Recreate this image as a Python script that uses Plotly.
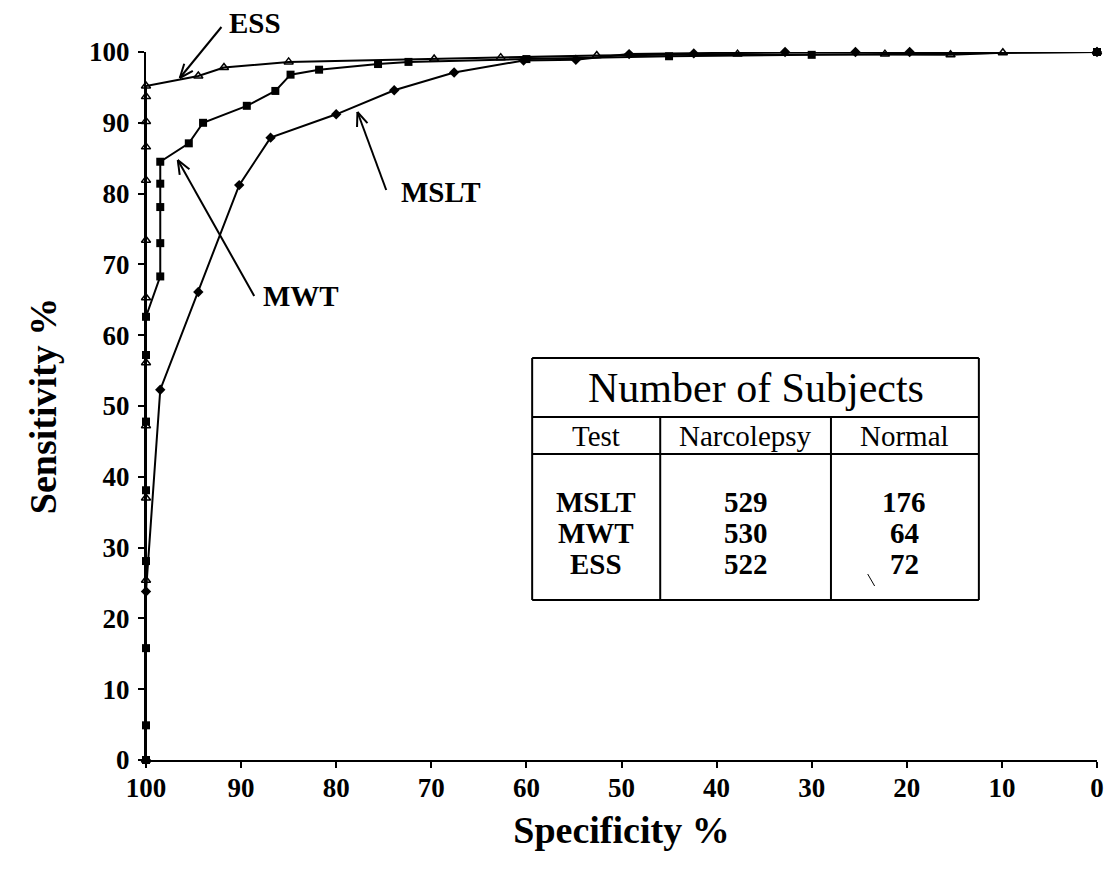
import math
import plotly.graph_objects as go

# ---------------- data ----------------
mslt_spec = [100, 100, 98.5, 94.5, 90.2, 86.9, 80.0, 73.9, 67.6, 60.3, 54.8, 49.2, 42.4, 32.8, 25.4, 19.7, 0]
mslt_sens = [0, 23.8, 52.3, 66.1, 81.2, 87.9, 91.2, 94.6, 97.1, 98.8, 98.9, 99.7, 99.8, 100, 100, 100, 100]

mwt_spec = [100, 100, 100, 100, 100, 100, 100, 100, 98.5, 98.5, 98.5, 98.5, 98.5,
            95.5, 94.0, 89.4, 86.4, 84.8, 81.8, 75.6, 72.4, 60.0, 45.0, 30.0, 0]
mwt_sens = [0, 4.9, 15.8, 28.1, 38.1, 47.8, 57.2, 62.6, 68.3, 73.0, 78.1, 81.4, 84.5,
            87.1, 90.0, 92.4, 94.5, 96.8, 97.5, 98.3, 98.6, 99.0, 99.4, 99.6, 100]

ess_spec = [100, 100, 100, 100, 100, 100, 100, 100, 100, 100, 100, 100,
            94.5, 91.8, 85.0, 69.7, 62.7, 52.6, 37.8, 22.3, 15.4, 9.9, 0]
ess_sens = [0, 25.4, 37.0, 47.2, 56.1, 65.3, 73.4, 81.9, 86.6, 90.2, 93.7, 95.2,
            96.6, 97.8, 98.6, 99.0, 99.2, 99.5, 99.7, 99.7, 99.6, 99.9, 100]

x_ticks = [100, 90, 80, 70, 60, 50, 40, 30, 20, 10, 0]
y_ticks = [0, 10, 20, 30, 40, 50, 60, 70, 80, 90, 100]

table_title = "Number of Subjects"
table_header = ["Test", "Narcolepsy", "Normal"]
table_tests = ["MSLT", "MWT", "ESS"]
table_narcolepsy = [529, 530, 522]
table_normal = [176, 64, 72]

# ---------------- layout constants ----------------
W, H = 1113, 882
ML, MR, MT, MB = 146, 9, 52, 122
PW, PH = W - ML - MR, H - MT - MB
FONT = "Liberation Serif"


def px2paper(px, py):
    return (px - ML) / PW, (H - MB - py) / PH


fig = go.Figure()

line_style = dict(color="black", width=2)
fig.add_trace(go.Scatter(x=mslt_spec, y=mslt_sens, mode="lines+markers", name="MSLT",
                         line=line_style,
                         marker=dict(symbol="diamond", size=8, color="black"),
                         cliponaxis=False))
fig.add_trace(go.Scatter(x=mwt_spec, y=mwt_sens, mode="lines+markers", name="MWT",
                         line=line_style,
                         marker=dict(symbol="square", size=8, color="black"),
                         cliponaxis=False))
fig.add_trace(go.Scatter(x=ess_spec, y=ess_sens, mode="lines+markers", name="ESS",
                         line=line_style,
                         marker=dict(symbol="triangle-up-open", size=8, color="black",
                                     line=dict(color="black", width=1.5)),
                         cliponaxis=False))

shapes = []
annotations = []


def seg(a, b, c, d, w=2):
    x0, y0 = px2paper(a, b)
    x1, y1 = px2paper(c, d)
    shapes.append(dict(type="line", xref="paper", yref="paper", x0=x0, y0=y0, x1=x1, y1=y1,
                       line=dict(color="black", width=w)))


def arrow(tail_px, tip_px, head_len=15, head_ang=22):
    tx, ty = tail_px
    hx, hy = tip_px
    seg(tx, ty, hx, hy)
    ang = math.atan2(ty - hy, tx - hx)
    for s in (-1, 1):
        a = ang + s * math.radians(head_ang)
        seg(hx, hy, hx + head_len * math.cos(a), hy + head_len * math.sin(a))


def label(text, px, py, size, bold=True):
    x, y = px2paper(px, py)
    annotations.append(dict(x=x, y=y, xref="paper", yref="paper", showarrow=False,
                            text=f"<b>{text}</b>" if bold else text,
                            font=dict(family=FONT, size=size, color="black"),
                            xanchor="center", yanchor="middle"))


# curve labels with arrows
arrow((222, 27), (180, 78))
label("ESS", 256, 23, 29)
arrow((255, 296), (178, 160))
label("MWT", 302, 296, 29)
arrow((388, 190), (359, 112))
label("MSLT", 443, 192, 29)

# table
TL, TR, TT, TB = 535, 985, 358, 600
ROW1, ROW2 = 417, 454
COL1, COL2 = 664, 836
for a, b, c, d in [
    (TL, TT, TR, TT), (TL, TB, TR, TB), (TL, TT, TL, TB), (TR, TT, TR, TB),
    (TL, ROW1, TR, ROW1), (TL, ROW2, TR, ROW2),
    (COL1, ROW1, COL1, TB), (COL2, ROW1, COL2, TB),
]:
    seg(a, b, c, d)
seg(873, 574, 880, 586, w=1)  # small stray pen mark in the original

label(table_title, 760, 388, 42, bold=False)
col_x = [599, 750, 910]
for cx, h in zip(col_x, table_header):
    label(h, cx, 436, 29, bold=False)
row_y = [502, 533, 564]
for ry, t, n1, n2 in zip(row_y, table_tests, table_narcolepsy, table_normal):
    label(t, col_x[0], ry, 29)
    label(str(n1), col_x[1], ry, 29)
    label(str(n2), col_x[2], ry, 29)

axis_common = dict(showline=True, linecolor="black", linewidth=2, ticks="outside",
                   ticklen=6, tickwidth=2, tickcolor="black", showgrid=False, zeroline=False,
                   tickfont=dict(family=FONT, size=27, color="black"))

fig.update_layout(
    width=W, height=H,
    margin=dict(l=ML, r=MR, t=MT, b=MB),
    paper_bgcolor="white", plot_bgcolor="white",
    showlegend=False,
    shapes=shapes, annotations=annotations,
    xaxis=dict(range=[100, 0], tickvals=x_ticks, ticktext=[f"<b>{v}</b>" for v in x_ticks],
               ticklabelstandoff=-3,
               title=dict(text="<b>Specificity %</b>", font=dict(family=FONT, size=38, color="black"),
                          standoff=14),
               **axis_common),
    yaxis=dict(range=[0, 100], tickvals=y_ticks, ticktext=[f"<b>{v}</b>" for v in y_ticks],
               ticklabelstandoff=3,
               title=dict(text="<b>Sensitivity %</b>", font=dict(family=FONT, size=38, color="black"),
                          standoff=21),
               **axis_common),
)

fig.write_html("out.html", config={"displayModeBar": False},
               post_script="document.body.style.margin='0';")
